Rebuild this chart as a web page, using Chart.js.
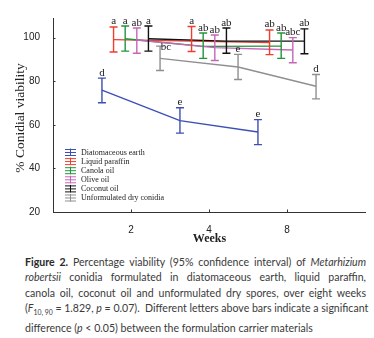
<!DOCTYPE html>
<html>
<head>
<meta charset="utf-8">
<script src="https://cdn.jsdelivr.net/npm/chart.js@4"></script>
<style>
  html, body { margin: 0; padding: 0; background: #fff; }
  #wrap { position: relative; width: 374px; height: 338px; overflow: hidden; }
  #chartBox { position: absolute; left: 0; top: 0; width: 374px; height: 250px; }
  #caption {
    position: absolute; left: 25px; top: 255px; width: 341px;
    font-family: Lato, "Noto Sans", sans-serif; font-size: 11px; line-height: 15.4px;
    color: #3a3a3a;
  }
  #caption div { white-space: nowrap; text-align: justify; text-align-last: justify; }
  #caption div.last { text-align-last: left; }
  #caption b { color: #2a2a2a; }
  #caption sub { font-size: 0.65em; }
</style>
</head>
<body>
<div id="wrap">
  <div id="chartBox"><canvas id="myChart"></canvas></div>
  <div id="caption">
    <div><b>Figure 2.</b> Percentage viability (95% confidence interval) of <i>Metarhizium</i></div>
    <div><i>robertsii</i> conidia formulated in diatomaceous earth, liquid paraffin,</div>
    <div>canola oil, coconut oil and unformulated dry spores, over eight weeks</div>
    <div>(<i>F</i><sub>10, 90</sub> = 1.829, <i>p</i> = 0.07). &nbsp;Different letters above bars indicate a significant</div>
    <div class="last"><span id="lastLine">difference (<i>p</i> &lt; 0.05) between the formulation carrier materials</span></div>
  </div>
</div>
<script>
const weeks = ['2', '4', '8'];
const seriesNames = ['Diatomaceous earth', 'Liquid paraffin', 'Canola oil', 'Olive oil', 'Coconut oil', 'Unformulated dry conidia'];
const seriesColors = ['#3d4fb3', '#ef3e2e', '#23953c', '#c766b9', '#111111', '#8f8f8f'];

// mean viability (%)
const diatomaceous = [75.9, 61.9, 56.7];
const paraffin = [99.1, 98.4, 97.7];
const canola = [99.5, 96.0, 96.1];
const olive = [98.9, 95.4, 94.3];
const coconut = [99.5, 98.4, 98.4];
const unformulated = [90.5, 86.5, 77.7];

// 95% CI upper / lower
const upperCI = [
  [81.4, 67.8, 62.4],
  [104.9, 105.1, 103.5],
  [105.3, 102.1, 102.1],
  [104.4, 101.2, 100.0],
  [105.3, 104.4, 104.0],
  [96.1, 92.3, 83.1]
];
const lowerCI = [
  [70.1, 56.2, 50.9],
  [93.4, 93.6, 92.2],
  [93.8, 90.5, 90.5],
  [92.8, 89.5, 88.5],
  [93.8, 92.8, 92.6],
  [84.9, 80.8, 71.9]
];

// significance letters
const letters = [
  ['d', 'e', 'e'],
  ['a', 'a', 'ab'],
  ['a', 'ab', 'ab'],
  ['ab', 'ab', 'abc'],
  ['a', 'ab', 'ab'],
  ['bc', 'e', 'd']
];

const yTicks = [20, 40, 60, 80, 100];

const means = [diatomaceous, paraffin, canola, olive, coconut, unformulated];
const groupStep = 0.149;
const xPos = (i, j) => j + 2 + (i - 2.5) * groupStep;

// size caption so the (unjustified) last line is as wide as in the figure
(function fitCaption() {
  const cap = document.getElementById('caption');
  const w = document.getElementById('lastLine').getBoundingClientRect().width;
  if (w > 0) cap.style.fontSize = (11 * 288 / w).toFixed(2) + 'px';
})();

const errorBars = {
  id: 'errorBars',
  afterDatasetsDraw(chart) {
    const { ctx, scales: { x, y } } = chart;
    ctx.save();
    ctx.lineWidth = 1.4;
    means.forEach((m, i) => {
      ctx.strokeStyle = seriesColors[i];
      m.forEach((v, j) => {
        const px = x.getPixelForValue(xPos(i, j));
        const yt = y.getPixelForValue(upperCI[i][j]);
        const yb = y.getPixelForValue(lowerCI[i][j]);
        ctx.beginPath();
        ctx.moveTo(px, yt); ctx.lineTo(px, yb);
        ctx.moveTo(px - 4, yt); ctx.lineTo(px + 4, yt);
        ctx.moveTo(px - 4, yb); ctx.lineTo(px + 4, yb);
        ctx.stroke();
      });
    });
    // letters
    ctx.fillStyle = '#222';
    ctx.font = '11px "Liberation Serif", serif';
    ctx.textAlign = 'center';
    ctx.textBaseline = 'alphabetic';
    letters.forEach((row, i) => {
      row.forEach((t, j) => {
        let px = x.getPixelForValue(xPos(i, j));
        let py = y.getPixelForValue(upperCI[i][j]) - 2.5;
        if (i === 5 && j === 0) { px += 6; py += 6.5; }
        ctx.fillText(t, px, py);
      });
    });
    ctx.restore();
  },
  afterDraw(chart) {
    const { ctx, chartArea: a, scales: { x, y } } = chart;
    ctx.save();
    // inward tick marks
    ctx.strokeStyle = '#333';
    ctx.lineWidth = 1;
    ctx.beginPath();
    x.ticks.forEach(t => {
      const px = Math.round(x.getPixelForValue(t.value)) + 0.5;
      ctx.moveTo(px, a.bottom); ctx.lineTo(px, a.bottom - 2.5);
    });
    y.ticks.forEach(t => {
      const py = Math.round(y.getPixelForValue(t.value)) + 0.5;
      ctx.moveTo(a.left, py); ctx.lineTo(a.left + 2.5, py);
    });
    ctx.stroke();

    // axis titles
    ctx.fillStyle = '#222';
    ctx.textAlign = 'center';
    ctx.textBaseline = 'middle';
    ctx.font = 'bold 12px "Liberation Serif", serif';
    ctx.fillText('Weeks', (a.left + a.right) / 2 + 0.5, 239);
    ctx.save();
    ctx.translate(20, (a.top + a.bottom) / 2 + 3);
    ctx.rotate(-Math.PI / 2);
    ctx.font = '13.5px "Liberation Serif", serif';
    ctx.fillText('% Conidial viability', 0, 0);
    ctx.restore();

    // legend inside plot, lower left
    ctx.font = '8px "Liberation Serif", serif';
    ctx.textAlign = 'left';
    seriesNames.forEach((name, i) => {
      const ly = a.bottom - 60 + i * 9.1;
      const lx = a.left + 12;
      ctx.strokeStyle = seriesColors[i];
      ctx.lineWidth = 1;
      ctx.beginPath();
      [-3, 0, 3].forEach(d => { ctx.moveTo(lx, ly + d + 0.5); ctx.lineTo(lx + 11, ly + d + 0.5); });
      ctx.moveTo(lx + 5.5, ly - 3.5); ctx.lineTo(lx + 5.5, ly + 4);
      ctx.stroke();
      ctx.fillStyle = '#222';
      ctx.fillText(name, lx + 16, ly + 0.5);
    });
    ctx.restore();
  }
};

const ctx = document.getElementById('myChart').getContext('2d');
new Chart(ctx, {
  type: 'line',
  data: {
    datasets: means.map((m, i) => ({
      label: seriesNames[i],
      data: m.map((v, j) => ({ x: xPos(i, j), y: v })),
      borderColor: seriesColors[i],
      borderWidth: 1.4,
      pointRadius: 0,
      fill: false,
      tension: 0,
      order: 5 - i
    }))
  },
  options: {
    animation: false,
    responsive: true,
    maintainAspectRatio: false,
    layout: { padding: { left: 0, right: 9, top: 18, bottom: 0 } },
    plugins: { legend: { display: false }, tooltip: { enabled: false } },
    scales: {
      x: {
        type: 'linear',
        min: 1,
        max: 5,
        grid: { display: false },
        border: { display: true, color: '#333', width: 1 },
        afterBuildTicks: axis => { axis.ticks = weeks.map((w, j) => ({ value: j + 2 })); },
        afterFit: scale => { scale.height = 38; },
        ticks: {
          padding: 4,
          color: '#222',
          font: { family: '"Liberation Sans", Arial, sans-serif', size: 10 },
          callback: v => weeks[v - 2]
        }
      },
      y: {
        min: 20,
        max: 109,
        grid: { display: false },
        border: { display: true, color: '#333', width: 1 },
        afterBuildTicks: axis => { axis.ticks = yTicks.map(v => ({ value: v })); },
        afterFit: scale => { scale.width = 53; },
        ticks: {
          padding: 5,
          color: '#222',
          font: { family: '"Liberation Sans", Arial, sans-serif', size: 10 }
        }
      }
    }
  },
  plugins: [errorBars]
});
</script>
</body>
</html>
